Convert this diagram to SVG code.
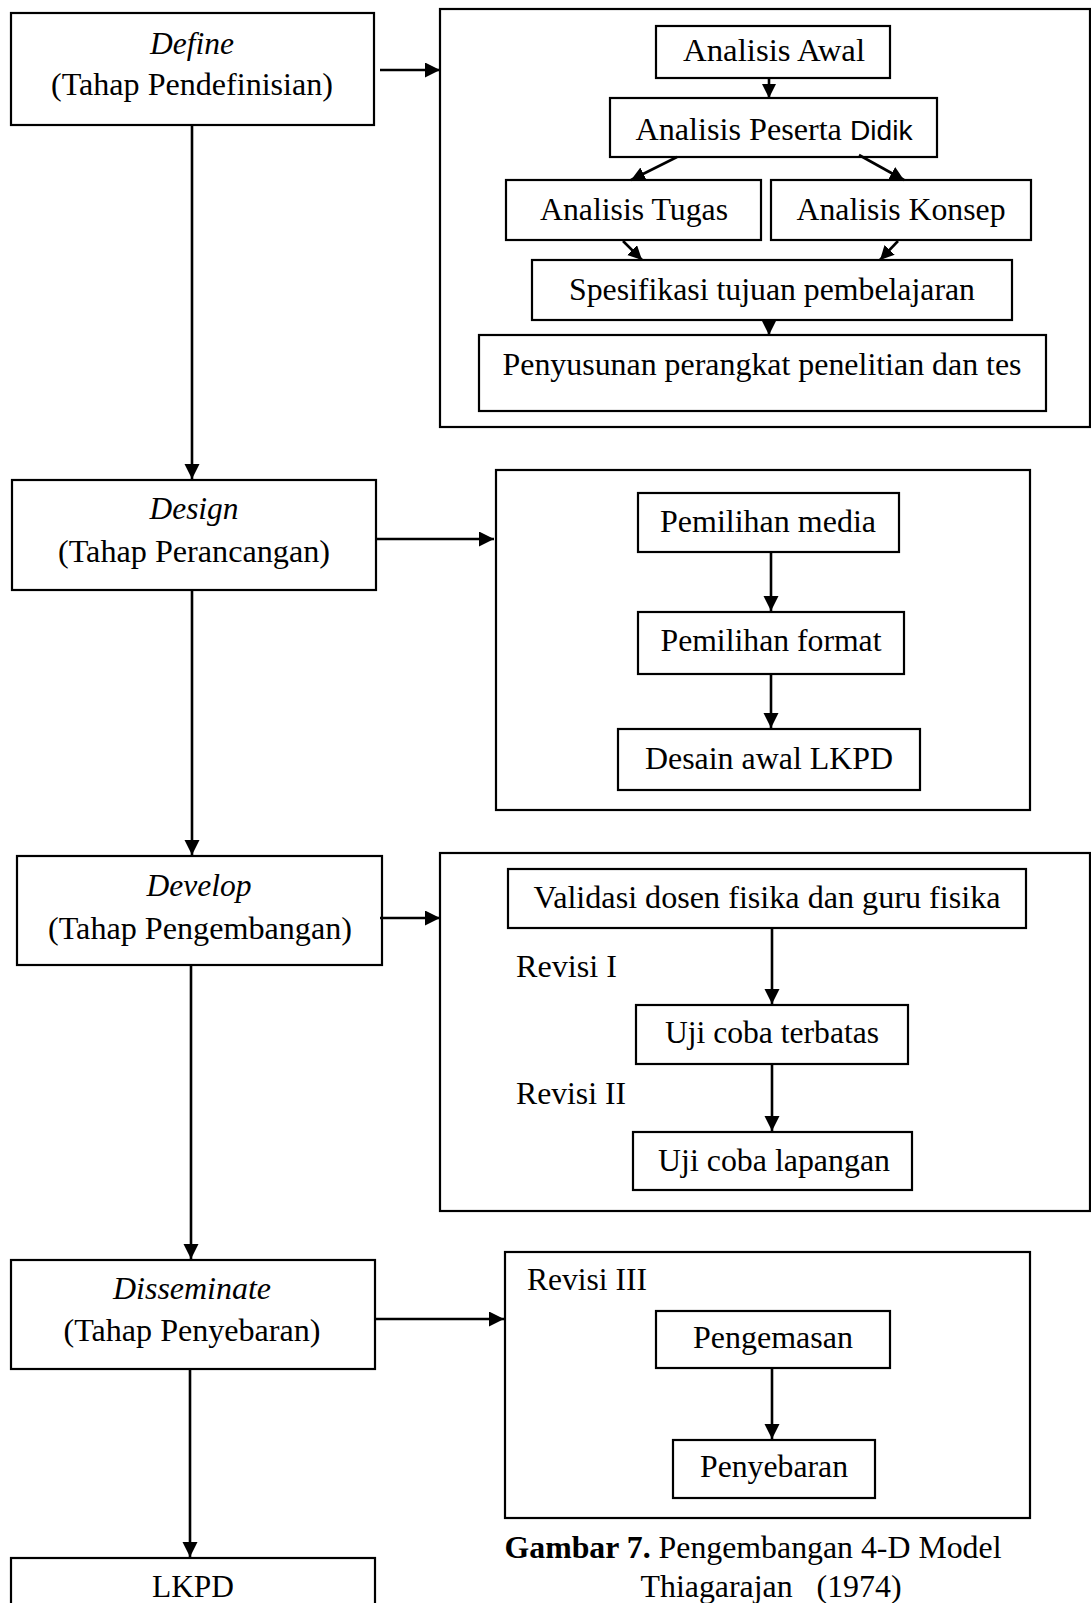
<svg xmlns="http://www.w3.org/2000/svg" width="1091" height="1603" viewBox="0 0 1091 1603">
<style>
rect{fill:#fff;stroke:#000;stroke-width:2.2}
text{font-family:"Liberation Serif","Times New Roman",serif;font-size:32px;fill:#000}
.c{text-anchor:middle}
.i{font-style:italic}
.cn line{stroke:#000;stroke-width:2.6}
</style>
<defs>
<marker id="ah" markerUnits="userSpaceOnUse" markerWidth="16" markerHeight="16" refX="15" refY="7.5" orient="auto">
<path d="M0,0 L15,7.5 L0,15 z" fill="#000"/>
</marker>
<marker id="as" markerUnits="userSpaceOnUse" markerWidth="16" markerHeight="16" refX="14" refY="7" orient="auto">
<path d="M0,0 L14,7 L0,14 z" fill="#000"/>
</marker>
</defs>
<rect width="1091" height="1603" style="fill:#fff;stroke:none"/>

<g id="define"><rect x="11" y="13" width="363" height="112"/>
<text class="c i" x="192" y="54" textLength="84" lengthAdjust="spacingAndGlyphs">Define</text>
<text class="c" x="192" y="95" textLength="282" lengthAdjust="spacingAndGlyphs">(Tahap Pendefinisian)</text></g>
<g id="panel-define"><rect x="440" y="9" width="650" height="418"/></g>
<g id="analisis-awal"><rect x="656" y="26" width="234" height="52"/>
<text class="c" x="774" y="61" textLength="182" lengthAdjust="spacingAndGlyphs">Analisis Awal</text></g>
<g id="analisis-peserta"><rect x="610" y="98" width="327" height="59"/>
<text class="c" x="774" y="140" textLength="277" lengthAdjust="spacingAndGlyphs">Analisis Peserta <tspan style="font-family:'Liberation Sans','Open Sans',sans-serif;font-size:28px">Didik</tspan></text></g>
<g id="analisis-tugas"><rect x="506" y="180" width="255" height="60"/>
<text class="c" x="634" y="220" textLength="188" lengthAdjust="spacingAndGlyphs">Analisis Tugas</text></g>
<g id="analisis-konsep"><rect x="771" y="180" width="260" height="60"/>
<text class="c" x="901" y="220" textLength="209" lengthAdjust="spacingAndGlyphs">Analisis Konsep</text></g>
<g id="spesifikasi"><rect x="532" y="260" width="480" height="60"/>
<text class="c" x="772" y="300" textLength="406" lengthAdjust="spacingAndGlyphs">Spesifikasi tujuan pembelajaran</text></g>
<g id="penyusunan"><rect x="479" y="335" width="567" height="76"/>
<text class="c" x="762" y="375" textLength="519" lengthAdjust="spacingAndGlyphs">Penyusunan perangkat penelitian dan tes</text></g>

<g id="design"><rect x="12" y="480" width="364" height="110"/>
<text class="c i" x="194" y="519" textLength="89" lengthAdjust="spacingAndGlyphs">Design</text>
<text class="c" x="194" y="562" textLength="272" lengthAdjust="spacingAndGlyphs">(Tahap Perancangan)</text></g>
<g id="panel-design"><rect x="496" y="470" width="534" height="340"/></g>
<g id="pemilihan-media"><rect x="638" y="493" width="261" height="59"/>
<text class="c" x="768" y="532" textLength="216" lengthAdjust="spacingAndGlyphs">Pemilihan media</text></g>
<g id="pemilihan-format"><rect x="638" y="612" width="266" height="62"/>
<text class="c" x="771" y="651" textLength="221" lengthAdjust="spacingAndGlyphs">Pemilihan format</text></g>
<g id="desain-awal"><rect x="618" y="729" width="302" height="61"/>
<text class="c" x="769" y="769" textLength="248" lengthAdjust="spacingAndGlyphs">Desain awal LKPD</text></g>

<g id="develop"><rect x="17" y="856" width="365" height="109"/>
<text class="c i" x="199" y="896" textLength="105" lengthAdjust="spacingAndGlyphs">Develop</text>
<text class="c" x="200" y="939" textLength="304" lengthAdjust="spacingAndGlyphs">(Tahap Pengembangan)</text></g>
<g id="panel-develop"><rect x="440" y="853" width="650" height="358"/>
<text x="516" y="977" textLength="101" lengthAdjust="spacingAndGlyphs">Revisi I</text>
<text x="516" y="1104" textLength="110" lengthAdjust="spacingAndGlyphs">Revisi II</text></g>
<g id="validasi"><rect x="508" y="869" width="518" height="59"/>
<text class="c" x="767" y="908" textLength="467" lengthAdjust="spacingAndGlyphs">Validasi dosen fisika dan guru fisika</text></g>
<g id="uji-terbatas"><rect x="636" y="1005" width="272" height="59"/>
<text class="c" x="772" y="1043" textLength="214" lengthAdjust="spacingAndGlyphs">Uji coba terbatas</text></g>
<g id="uji-lapangan"><rect x="633" y="1132" width="279" height="58"/>
<text class="c" x="774" y="1171" textLength="232" lengthAdjust="spacingAndGlyphs">Uji coba lapangan</text></g>

<g id="disseminate"><rect x="11" y="1260" width="364" height="109"/>
<text class="c i" x="192" y="1299" textLength="158" lengthAdjust="spacingAndGlyphs">Disseminate</text>
<text class="c" x="192" y="1341" textLength="257" lengthAdjust="spacingAndGlyphs">(Tahap Penyebaran)</text></g>
<g id="panel-disseminate"><rect x="505" y="1252" width="525" height="266"/>
<text x="527" y="1290" textLength="120" lengthAdjust="spacingAndGlyphs">Revisi III</text></g>
<g id="pengemasan"><rect x="656" y="1311" width="234" height="57"/>
<text class="c" x="773" y="1348" textLength="160" lengthAdjust="spacingAndGlyphs">Pengemasan</text></g>
<g id="penyebaran"><rect x="673" y="1440" width="202" height="58"/>
<text class="c" x="774" y="1477" textLength="148" lengthAdjust="spacingAndGlyphs">Penyebaran</text></g>

<g id="lkpd"><rect x="11" y="1558" width="364" height="60"/>
<text class="c" x="193" y="1597" textLength="82" lengthAdjust="spacingAndGlyphs">LKPD</text></g>

<g id="caption">
<text class="c" x="753" y="1558" textLength="497" lengthAdjust="spacingAndGlyphs"><tspan font-weight="bold">Gambar 7.</tspan> Pengembangan 4-D Model</text>
<text class="c" x="771" y="1597" textLength="261" lengthAdjust="spacingAndGlyphs" xml:space="preserve">Thiagarajan   (1974)</text>
</g>

<g id="connectors" class="cn">
<line x1="380" y1="70" x2="440" y2="70" marker-end="url(#ah)"/>
<line x1="192" y1="125" x2="192" y2="479" marker-end="url(#ah)"/>
<line x1="769" y1="78" x2="769" y2="98" marker-end="url(#as)"/>
<line x1="677" y1="157" x2="631" y2="180" marker-end="url(#as)"/>
<line x1="859" y1="155" x2="904" y2="180" marker-end="url(#as)"/>
<line x1="623" y1="241" x2="642" y2="260" marker-end="url(#as)"/>
<line x1="898" y1="241" x2="880" y2="260" marker-end="url(#as)"/>
<line x1="769" y1="320" x2="769" y2="335" marker-end="url(#as)"/>
<line x1="376" y1="539" x2="494" y2="539" marker-end="url(#ah)"/>
<line x1="192" y1="590" x2="192" y2="855" marker-end="url(#ah)"/>
<line x1="771" y1="552" x2="771" y2="611" marker-end="url(#ah)"/>
<line x1="771" y1="674" x2="771" y2="728" marker-end="url(#ah)"/>
<line x1="380" y1="918" x2="440" y2="918" marker-end="url(#ah)"/>
<line x1="191" y1="965" x2="191" y2="1259" marker-end="url(#ah)"/>
<line x1="772" y1="928" x2="772" y2="1004" marker-end="url(#ah)"/>
<line x1="772" y1="1064" x2="772" y2="1131" marker-end="url(#ah)"/>
<line x1="375" y1="1319" x2="504" y2="1319" marker-end="url(#ah)"/>
<line x1="190" y1="1369" x2="190" y2="1557" marker-end="url(#ah)"/>
<line x1="772" y1="1368" x2="772" y2="1439" marker-end="url(#ah)"/>
</g>
</svg>
